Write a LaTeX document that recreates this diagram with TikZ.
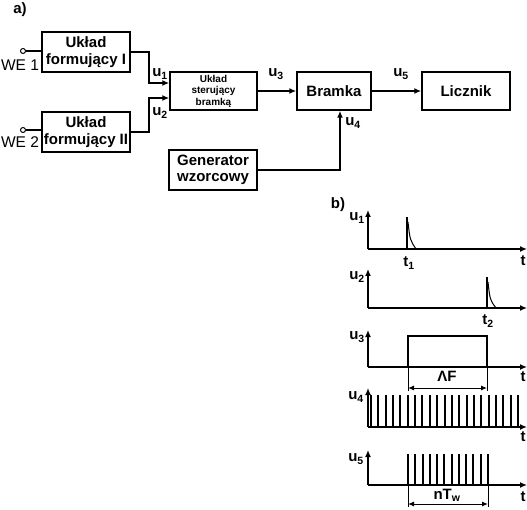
\documentclass[tikz,border=0pt]{standalone}
\usepackage{fontspec}
\setmainfont{Liberation Sans}
\usetikzlibrary{arrows.meta}

\begin{document}
\begin{tikzpicture}[x=1pt, y=-1pt, line width=1.5pt, font=\fontsize{15}{16.5}\selectfont\bfseries,
  block/.style={draw, align=center, inner sep=0pt, minimum width=88pt, minimum height=40pt},
  smallblock/.style={block, minimum height=38pt, font=\fontsize{10}{11.5}\selectfont\bfseries},
  port/.style={draw, circle, line width=1pt, inner sep=0pt, minimum size=5pt},
  lbl/.style={inner sep=0pt},
  inlbl/.style={inner sep=0pt, font=\fontsize{15.5}{17}\selectfont},
  sig/.style={-{Latex[length=7pt,width=6pt]}},
  axis/.style={-{Latex[length=7pt,width=6pt]}, line width=1.3pt},
  pulse/.style={line width=2pt},
  dimline/.style={{Latex[length=6pt,width=5pt]}-{Latex[length=6pt,width=5pt]}, line width=1pt}]
\useasboundingbox (0,0) rectangle (527,510);
% a) block diagram
\node[lbl] (parta) at (20,10) {a)};
\node[block] (formI) at (86,52) {Układ\\formujący I};
\node[block] (formII) at (86,132) {Układ\\formujący II};
\node[smallblock, minimum width=87pt] (ster) at (213.5,91) {Układ\\sterujący\\bramką};
\node[block] (gen) at (213,170) {Generator\\wzorcowy};
\node[block, minimum width=74pt, minimum height=38pt] (bramka) at (334,91) {Bramka};
\node[block, minimum height=38pt] (licznik) at (466,91) {Licznik};
\node[port] (in1) at (23,51) {};
\node[port] (in2) at (23,130) {};
\node[inlbl] (we1) at (20,65) {WE 1};
\node[inlbl] (we2) at (20,142) {WE 2};
\draw (in1) -- (in1 -| formI.west);
\draw (in2) -- (in2 -| formII.west);
\draw[sig] (formI.east) -- ++(18,0) |- ([yshift=8pt]ster.west);
\draw[sig] (formII.east) -- ++(18,0) |- ([yshift=-7pt]ster.west);
\draw[sig] (ster) -- (bramka);
\draw[sig] (bramka) -- (licznik);
\draw[sig] (gen.east) -| ([xshift=6pt]bramka.south);
\node[lbl] (lu1) at (160,74) {u\textsubscript{1}};
\node[lbl] (lu2) at (160,113) {u\textsubscript{2}};
\node[lbl] (lu3) at (276,74) {u\textsubscript{3}};
\node[lbl] (lu5) at (401,74) {u\textsubscript{5}};
\node[lbl] (lu4) at (353,123) {u\textsubscript{4}};
% b) timing diagrams
\node[lbl] (partb) at (338,205) {b)};
% u1
\draw[axis] (368,249) -- (368,210);
\draw[axis] (368,249) -- (527,249);
\draw (407,249) -- (407,217);
\draw[line width=1pt] (408,222) .. controls (410,240) .. (416,249);
\node[lbl] (tu1) at (357,218) {u\textsubscript{1}};
\node[lbl] (tt1) at (409,263) {t\textsubscript{1}};
\node[lbl] (ta1) at (523,261) {t};
% u2
\draw[axis] (368,308) -- (368,269);
\draw[axis] (368,308) -- (527,308);
\draw (487,308) -- (487,277);
\draw[line width=1pt] (488,282) .. controls (490,300) .. (496,308);
\node[lbl] (tu2) at (357,277) {u\textsubscript{2}};
\node[lbl] (tt2) at (488,321) {t\textsubscript{2}};
% u3
\draw[axis] (368,367) -- (368,330);
\draw[axis] (368,367) -- (527,367);
\draw (408,367) -- (408,336) -- (487,336) -- (487,367);
\draw[line width=1pt] (408,367) -- (408,391) (487,367) -- (487,391);
\draw[dimline] (408,388) -- (487,388);
\node[lbl] (tu3) at (357,337) {u\textsubscript{3}};
\node[lbl, anchor=north] (tdf) at (447,370) {ΛF};
\node[lbl] (ta3) at (523,377) {t};
% u4
\draw[axis] (368,427) -- (368,388);
\draw[axis] (368,427) -- (527,427);
\foreach \k in {0,...,20}
  \draw[pulse] ({371+round(7.35*\k)},427) -- ({371+round(7.35*\k)},395);
\node[lbl] (tu4) at (356,397) {u\textsubscript{4}};
\node[lbl] (ta4) at (523,437) {t};
% u5
\draw[axis] (368,485) -- (368,450);
\draw[axis] (368,485) -- (527,485);
\foreach \k in {0,...,11}
  \draw[pulse] ({408+round(7.27*\k)},485) -- ({408+round(7.27*\k)},454);
\draw[line width=1pt] (408,485) -- (408,507) (488,485) -- (488,507);
\draw[dimline] (408,504) -- (488,504);
\node[lbl] (tu5) at (356,459) {u\textsubscript{5}};
\node[lbl, anchor=north] (tnt) at (447,488) {nT\textsubscript{w}};
\node[lbl] (ta5) at (523,497) {t};
\end{tikzpicture}
\end{document}
